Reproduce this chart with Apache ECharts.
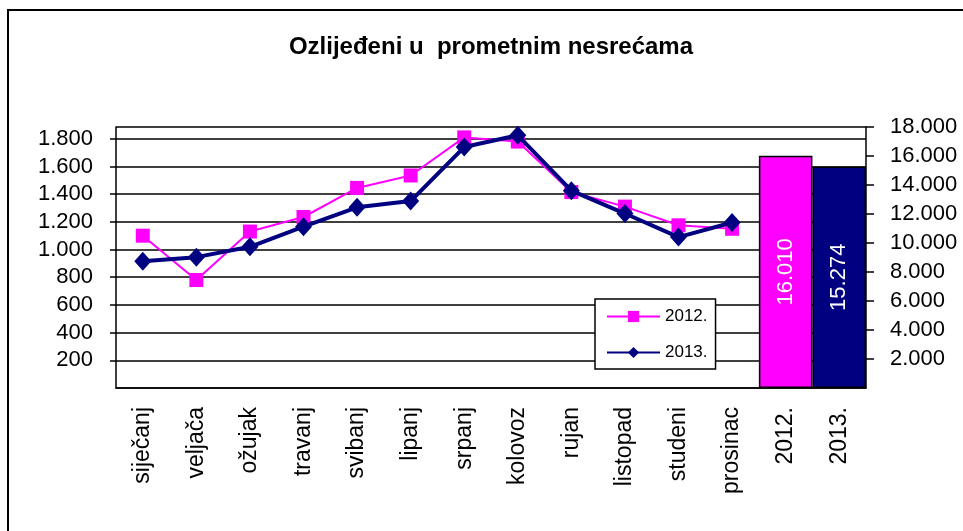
<!DOCTYPE html>
<html>
<head>
<meta charset="utf-8">
<script src="https://cdn.jsdelivr.net/npm/echarts@6/dist/echarts.min.js"></script>
<style>
  html, body { margin: 0; padding: 0; background: #fff; }
  #container { width: 963px; height: 531px; }
</style>
</head>
<body>
<div id="container"></div>
<script>
// kategorije i vrijednosti
var months = ['siječanj', 'veljača', 'ožujak', 'travanj', 'svibanj', 'lipanj',
              'srpanj', 'kolovoz', 'rujan', 'listopad', 'studeni', 'prosinac'];
var yearLabels = ['2012.', '2013.'];
var values2012 = [1100, 780, 1130, 1235, 1445, 1535, 1810, 1780, 1415, 1310, 1175, 1150];
var values2013 = [915, 945, 1020, 1165, 1305, 1350, 1740, 1825, 1425, 1260, 1090, 1195];
var totals = [16010, 15274];
var totalColors = ['#FF00FF', '#000080'];

var font = "'Liberation Sans', Arial, sans-serif";
var fmt = function (v) {
    return String(v).replace(/\B(?=(\d{3})+(?!\d))/g, '.');
};

var categories = months.concat(yearLabels);
var pad = function (arr) { return arr.concat(yearLabels.map(function () { return null; })); };
var barData = months.map(function () { return null; }).concat(totals.map(function (v, i) {
    return { value: v, itemStyle: { color: totalColors[i] } };
}));

var dom = document.getElementById('container');
var myChart = echarts.init(dom);
var option = {
    animation: false,
    backgroundColor: '#fff',
    graphic: [{
        type: 'rect',
        shape: { x: 8, y: 10, width: 1000, height: 600 },
        style: { fill: 'none', stroke: '#000', lineWidth: 2 }
    }],
    title: {
        text: 'Ozlijeđeni u  prometnim nesrećama',
        left: 486,
        top: 30,
        textAlign: 'center',
        textStyle: { fontFamily: font, fontSize: 24, fontWeight: 'bold', color: '#000' }
    },
    legend: {
        orient: 'vertical',
        left: 595,
        top: 299,
        padding: [9, 8, 8, 11],
        itemGap: 19,
        itemWidth: 53,
        itemHeight: 14,
        borderColor: '#000',
        borderWidth: 1.5,
        backgroundColor: '#fff',
        textStyle: { fontFamily: font, fontSize: 17, color: '#000' },
        data: ['2012.', '2013.']
    },
    grid: { left: 116, right: 97, top: 127, bottom: 143 },
    xAxis: {
        type: 'category',
        data: categories,
        boundaryGap: true,
        axisLine: { lineStyle: { color: '#000', width: 1.5 } },
        axisTick: { length: 7, lineStyle: { color: '#000', width: 1.5 } },
        axisLabel: { rotate: 90, margin: 19, fontFamily: font, fontSize: 23, color: '#000' }
    },
    yAxis: [{
        type: 'value',
        min: 0,
        max: 1885,
        interval: 200,
        axisLine: { show: true, lineStyle: { color: '#000', width: 1.5 } },
        axisTick: { show: true, length: 6, lineStyle: { color: '#000', width: 1.5 } },
        axisLabel: {
            showMinLabel: false, showMaxLabel: false, margin: 23,
            fontFamily: font, fontSize: 22, color: '#000', formatter: fmt
        },
        splitLine: { lineStyle: { color: '#000', width: 1.5 } }
    }, {
        type: 'value',
        min: 0,
        max: 18000,
        interval: 2000,
        axisLine: { show: true, lineStyle: { color: '#000', width: 1.5 } },
        axisTick: { show: true, length: 8, lineStyle: { color: '#000', width: 1.5 } },
        axisLabel: {
            showMinLabel: false, margin: 24,
            fontFamily: font, fontSize: 22, color: '#000', formatter: fmt
        },
        splitLine: { show: false }
    }],
    series: [{
        name: '2012.',
        type: 'line',
        data: pad(values2012),
        symbol: 'rect',
        symbolSize: 14,
        lineStyle: { color: '#FF00FF', width: 2 },
        itemStyle: { color: '#FF00FF' },
        z: 3
    }, {
        name: '2013.',
        type: 'line',
        data: pad(values2013),
        symbol: 'diamond',
        symbolSize: [17, 19],
        lineStyle: { color: '#000080', width: 4 },
        itemStyle: { color: '#000080' },
        z: 4
    }, {
        name: 'ukupno',
        type: 'bar',
        yAxisIndex: 1,
        data: barData,
        barWidth: '100%',
        barGap: '-100%',
        itemStyle: { borderColor: '#000', borderWidth: 1.5 },
        label: {
            show: true,
            position: 'inside',
            rotate: 90,
            color: '#fff',
            fontFamily: font,
            fontSize: 22,
            formatter: function (p) { return fmt(p.value); }
        },
        z: 2
    }]
};
myChart.setOption(option);
</script>
</body>
</html>
